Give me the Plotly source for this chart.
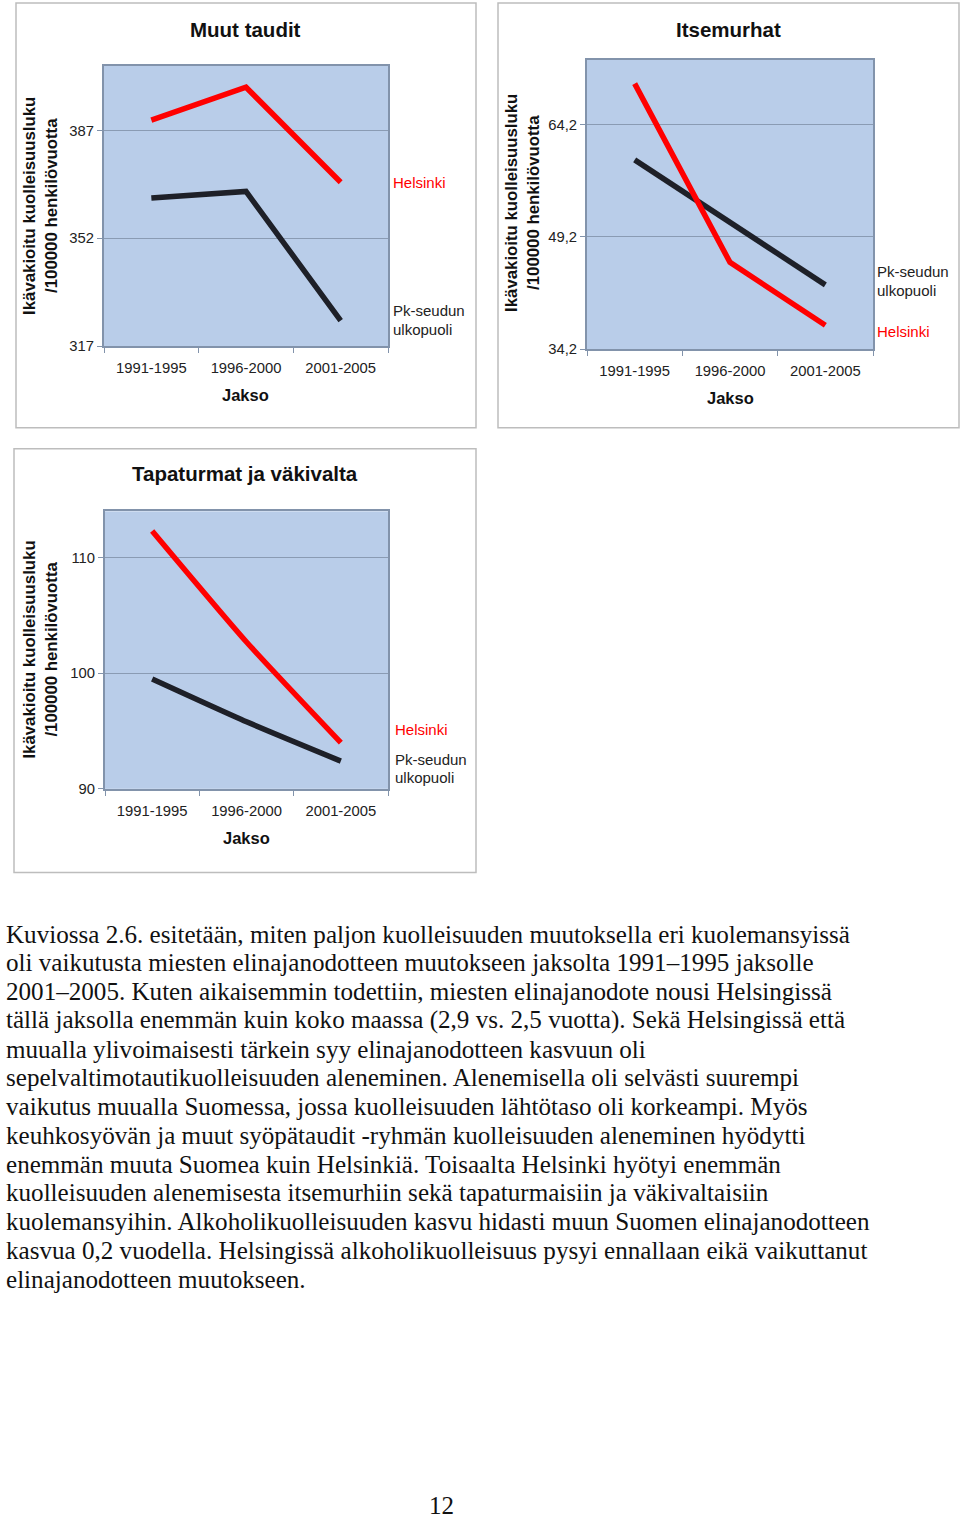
import plotly.graph_objects as go

W, H = 960, 1528

categories = ["1991-1995", "1996-2000", "2001-2005"]

# Muut taudit
muut_helsinki = [390.3, 401.0, 370.2]
muut_pk = [365.1, 367.2, 325.3]
muut_ticks = [317, 352, 387]
muut_range = [317, 408]

# Itsemurhat
itse_helsinki = [69.7, 45.8, 37.4]
itse_pk = [59.5, 51.2, 42.8]
itse_ticks = [34.2, 49.2, 64.2]
itse_ticklabels = ["34,2", "49,2", "64,2"]
itse_range = [34.2, 72.9]

# Tapaturmat ja väkivalta
tapa_helsinki = [112.3, 102.7, 94.0]
tapa_pk = [99.5, 95.8, 92.4]
tapa_ticks = [90, 100, 110]
tapa_range = [90, 114]

titles = ["Muut taudit", "Itsemurhat", "Tapaturmat ja väkivalta"]
ytitle1 = "Ikävakioitu kuolleisuusluku"
ytitle2 = "/100000 henkilövuotta"
xtitle = "Jakso"
label_hel = "Helsinki"
label_pk = ["Pk-seudun", "ulkopuoli"]

body_lines = [
    "Kuviossa 2.6. esitetään, miten paljon kuolleisuuden muutoksella eri kuolemansyissä",
    "oli vaikutusta miesten elinajanodotteen muutokseen jaksolta 1991–1995 jaksolle",
    "2001–2005. Kuten aikaisemmin todettiin, miesten elinajanodote nousi Helsingissä",
    "tällä jaksolla enemmän kuin koko maassa (2,9 vs. 2,5 vuotta). Sekä Helsingissä että",
    "muualla ylivoimaisesti tärkein syy elinajanodotteen kasvuun oli",
    "sepelvaltimotautikuolleisuuden aleneminen. Alenemisella oli selvästi suurempi",
    "vaikutus muualla Suomessa, jossa kuolleisuuden lähtötaso oli korkeampi. Myös",
    "keuhkosyövän ja muut syöpätaudit -ryhmän kuolleisuuden aleneminen hyödytti",
    "enemmän muuta Suomea kuin Helsinkiä. Toisaalta Helsinki hyötyi enemmän",
    "kuolleisuuden alenemisesta itsemurhiin sekä tapaturmaisiin ja väkivaltaisiin",
    "kuolemansyihin. Alkoholikuolleisuuden kasvu hidasti muun Suomen elinajanodotteen",
    "kasvua 0,2 vuodella. Helsingissä alkoholikuolleisuus pysyi ennallaan eikä vaikuttanut",
    "elinajanodotteen muutokseen.",
]
page_number = "12"

RED = "#ff0000"
DARK = "#1e2028"
SANS = "Liberation Sans, Arial, sans-serif"
SERIF = "Liberation Serif, Times New Roman, serif"


def px(x):
    return x / W


def py(y):
    return 1 - y / H


fig = go.Figure()

panels = [
    dict(hel=muut_helsinki, pk=muut_pk, ticks=muut_ticks,
         ticktext=[str(t) for t in muut_ticks], rng=muut_range,
         box=(104, 66, 388, 348), outer=(16, 3, 476, 430), smooth=False,
         title_y=30, ytitle_x=(30, 52), ytitle_y=207,
         labels=[(391, 183, label_hel, RED), (391, 312, label_pk[0], "#222"), (391, 331, label_pk[1], "#222")]),
    dict(hel=itse_helsinki, pk=itse_pk, ticks=itse_ticks,
         ticktext=itse_ticklabels, rng=itse_range,
         box=(587, 60, 873, 351), outer=(498, 3, 959, 430), smooth=False,
         title_y=30, ytitle_x=(512, 534), ytitle_y=204,
         labels=[(875, 273, label_pk[0], "#222"), (875, 292, label_pk[1], "#222"), (875, 333, label_hel, RED)]),
    dict(hel=tapa_helsinki, pk=tapa_pk, ticks=tapa_ticks,
         ticktext=[str(t) for t in tapa_ticks], rng=tapa_range,
         box=(105, 514, 388, 793), outer=(14, 451, 476, 877), smooth=True,
         title_y=476, ytitle_x=(30, 52), ytitle_y=653,
         labels=[(393, 733, label_hel, RED), (393, 763, label_pk[0], "#222"), (393, 782, label_pk[1], "#222")]),
]

layout_axes = {}
annotations = []
shapes = []

for i, p in enumerate(panels):
    n = "" if i == 0 else str(i + 1)
    xa, ya = "x" + n, "y" + n
    x0, y0, x1, y1 = p["box"]
    shape = "spline" if p["smooth"] else "linear"
    fig.add_trace(go.Scatter(x=categories, y=p["pk"], mode="lines", xaxis=xa, yaxis=ya,
                             line=dict(color=DARK, width=5.5, shape=shape, smoothing=0.6),
                             showlegend=False, hoverinfo="skip"))
    fig.add_trace(go.Scatter(x=categories, y=p["hel"], mode="lines", xaxis=xa, yaxis=ya,
                             line=dict(color=RED, width=5.5, shape=shape, smoothing=0.6),
                             showlegend=False, hoverinfo="skip"))
    layout_axes["xaxis" + n] = dict(
        domain=[px(x0), px(x1)], anchor=ya, type="category", range=[-0.5, 2.5],
        showgrid=False, showline=True, mirror=True, linecolor="#8293ab", linewidth=2,
        ticks="outside", tickson="boundaries", ticklen=5, tickcolor="#8293ab",
        ticklabelstandoff=7,
        tickfont=dict(family=SANS, size=14.8, color="#222"), zeroline=False, fixedrange=True,
    )
    layout_axes["yaxis" + n] = dict(
        domain=[py(y1), py(y0)], anchor=xa, range=p["rng"],
        tickmode="array", tickvals=p["ticks"], ticktext=p["ticktext"],
        showgrid=True, gridcolor="#8a9bb3", gridwidth=1,
        showline=True, mirror=True, linecolor="#8293ab", linewidth=2,
        ticks="outside", ticklen=5, tickcolor="#8293ab",
        tickfont=dict(family=SANS, size=14.8, color="#222"), zeroline=False, fixedrange=True,
    )
    ox0, oy0, ox1, oy1 = p["outer"]
    shapes.append(dict(type="rect", xref="paper", yref="paper",
                       x0=px(ox0), x1=px(ox1), y0=py(oy1), y1=py(oy0),
                       line=dict(color="#bdbdbd", width=1.5), fillcolor="rgba(0,0,0,0)", layer="below"))
    cx = (ox0 + ox1) / 2
    annotations.append(dict(text="<b>%s</b>" % titles[i], x=px(cx), y=py(p["title_y"]),
                            xref="paper", yref="paper", showarrow=False, xanchor="center", yanchor="middle",
                            font=dict(family=SANS, size=20.5, color="#111")))
    annotations.append(dict(text="<b>%s</b>" % xtitle, x=px((x0 + x1) / 2), y=py(y1 + 49),
                            xref="paper", yref="paper", showarrow=False, xanchor="center", yanchor="middle",
                            font=dict(family=SANS, size=16.5, color="#111")))
    for tx, t in zip(p["ytitle_x"], [ytitle1, ytitle2]):
        annotations.append(dict(text="<b>%s</b>" % t, x=px(tx), y=py(p["ytitle_y"]), textangle=-90,
                                xref="paper", yref="paper", showarrow=False, xanchor="center", yanchor="middle",
                                font=dict(family=SANS, size=16.8, color="#111")))
    for lx, ly, t, c in p["labels"]:
        annotations.append(dict(text=t, x=px(lx), y=py(ly), xref="paper", yref="paper", showarrow=False,
                                xanchor="left", yanchor="middle", font=dict(family=SANS, size=15, color=c)))

for k, line in enumerate(body_lines):
    annotations.append(dict(text=line, x=px(4), y=py(939 + k * 28.9), xref="paper", yref="paper",
                            showarrow=False, xanchor="left", yanchor="middle",
                            font=dict(family=SERIF, size=25.1, color="#111")))

annotations.append(dict(text=page_number, x=px(441), y=py(1513), xref="paper", yref="paper",
                        showarrow=False, xanchor="center", yanchor="middle",
                        font=dict(family=SERIF, size=25, color="#111")))

fig.update_layout(
    width=W, height=H, margin=dict(l=0, r=0, t=0, b=0),
    paper_bgcolor="white", plot_bgcolor="#b9cde9",
    annotations=annotations, shapes=shapes, showlegend=False,
    **layout_axes,
)

fig.write_html("out.html", config={"displayModeBar": False},
               post_script="document.body.style.margin='0';document.body.style.padding='0';")
